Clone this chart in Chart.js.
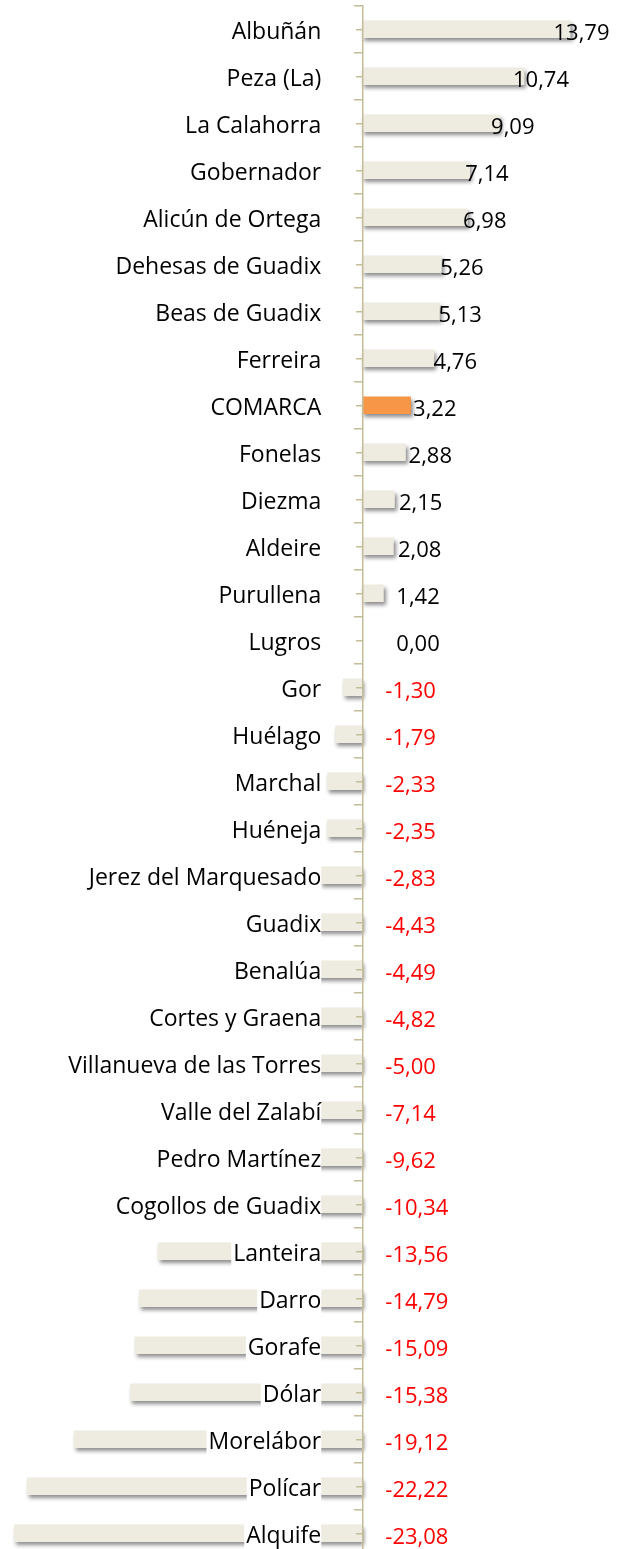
<!DOCTYPE html>
<html><head><meta charset="utf-8">
<script src="https://cdn.jsdelivr.net/npm/chart.js@4"></script>
<style>html,body{margin:0;padding:0;background:#fff;overflow:hidden;width:625px;height:1549px}
#wrap{position:absolute;left:0;top:0;width:625px;height:1557px}</style></head>
<body><div id="wrap"><canvas id="c"></canvas></div>
<script>
const categories = ['Albuñán','Peza (La)','La Calahorra','Gobernador','Alicún de Ortega','Dehesas de Guadix','Beas de Guadix','Ferreira','COMARCA','Fonelas','Diezma','Aldeire','Purullena','Lugros','Gor','Huélago','Marchal','Huéneja','Jerez del Marquesado','Guadix','Benalúa','Cortes y Graena','Villanueva de las Torres','Valle del Zalabí','Pedro Martínez','Cogollos de Guadix','Lanteira','Darro','Gorafe','Dólar','Morelábor','Polícar','Alquife'];
const values = [13.79,10.74,9.09,7.14,6.98,5.26,5.13,4.76,3.22,2.88,2.15,2.08,1.42,0.00,-1.30,-1.79,-2.33,-2.35,-2.83,-4.43,-4.49,-4.82,-5.00,-7.14,-9.62,-10.34,-13.56,-14.79,-15.09,-15.38,-19.12,-22.22,-23.08];
const highlightCategory = 'COMARCA';

const FONT = "'Open Sans'";
const LABEL_SIZE = 23;
const VALUE_SIZE = 22;
const AXIS_COLOR = '#C4BD97';
const PLOT_TOP = 5.5, PLOT_BOTTOM = 1556.5;   // page pixels of the category band
const LABEL_AXIS_AT = -2.72;                  // x-value where category labels end

const shadowPlugin = {
  id: 'barShadow',
  beforeDatasetsDraw(chart) {
    const ctx = chart.ctx;
    ctx.save();
    ctx.shadowColor = 'rgba(0,0,0,0.45)';
    ctx.shadowBlur = 4;
    ctx.shadowOffsetX = 2;
    ctx.shadowOffsetY = 3;
  },
  afterDatasetsDraw(chart) {
    chart.ctx.restore();
  }
};

const valueLabels = {
  id: 'valueLabels',
  afterDatasetsDraw(chart) {
    const ctx = chart.ctx;
    const meta = chart.getDatasetMeta(0);
    const axisX = chart.scales.x.getPixelForValue(0);
    ctx.save();
    ctx.font = VALUE_SIZE + 'px ' + FONT;
    ctx.textBaseline = 'middle';
    ctx.textAlign = 'left';
    meta.data.forEach((bar, i) => {
      const v = values[i];
      const txt = v.toFixed(2).replace('.', ',');
      if (v >= 0) {
        const len = bar.x - axisX;
        ctx.fillStyle = '#000';
        ctx.fillText(txt, Math.max(bar.x + 8 - 0.12 * len, axisX + 34), bar.y + 4);
      } else {
        ctx.fillStyle = '#FF0000';
        ctx.fillText(txt, axisX + 23, bar.y + 4);
      }
    });
    ctx.restore();
  }
};

const tickAxis = (centered, len) => ({
  type: 'category',
  labels: categories,
  position: { x: 0 },
  offset: true,
  grid: { offset: !centered, drawOnChartArea: false, tickLength: len, color: AXIS_COLOR, lineWidth: 1.5, z: 1 },
  border: { display: !centered, color: AXIS_COLOR, width: 1.5, z: 1 },
  ticks: { display: false, z: 1 }
});

const wrap = document.getElementById('wrap');
const chart = new Chart(document.getElementById('c'), {
  type: 'bar',
  data: {
    labels: categories,
    datasets: [{
      data: values,
      backgroundColor: categories.map(c => c === highlightCategory ? '#F79646' : '#EEECE1'),
      borderWidth: 0,
      barPercentage: 0.37,
      categoryPercentage: 1
    }]
  },
  options: {
    indexAxis: 'y',
    responsive: true,
    maintainAspectRatio: false,
    animation: false,
    layout: { padding: 0 },
    plugins: { legend: { display: false }, tooltip: { enabled: false } },
    scales: {
      x: { display: false, min: -24, max: 17.4 },
      y: {
        position: { x: LABEL_AXIS_AT },
        offset: true,
        grid: { display: false },
        border: { display: false },
        ticks: {
          z: 1,
          autoSkip: false,
          padding: 0,
          labelOffset: 3,
          color: '#000',
          font: { family: FONT, size: LABEL_SIZE },
          showLabelBackdrop: true,
          backdropColor: '#ffffff',
          backdropPadding: { top: 1, bottom: 1, left: 2, right: 0 }
        }
      },
      yb: tickAxis(false, 8),
      yc: tickAxis(true, 6)
    }
  },
  plugins: [shadowPlugin, valueLabels]
});
// fit the canvas so the category band sits at the reference position
const area = chart.chartArea;
const extra = chart.height - (area.bottom - area.top);
wrap.style.height = (PLOT_BOTTOM - PLOT_TOP + extra) + 'px';
wrap.style.top = (PLOT_TOP - area.top) + 'px';
chart.resize();
</script></body></html>
